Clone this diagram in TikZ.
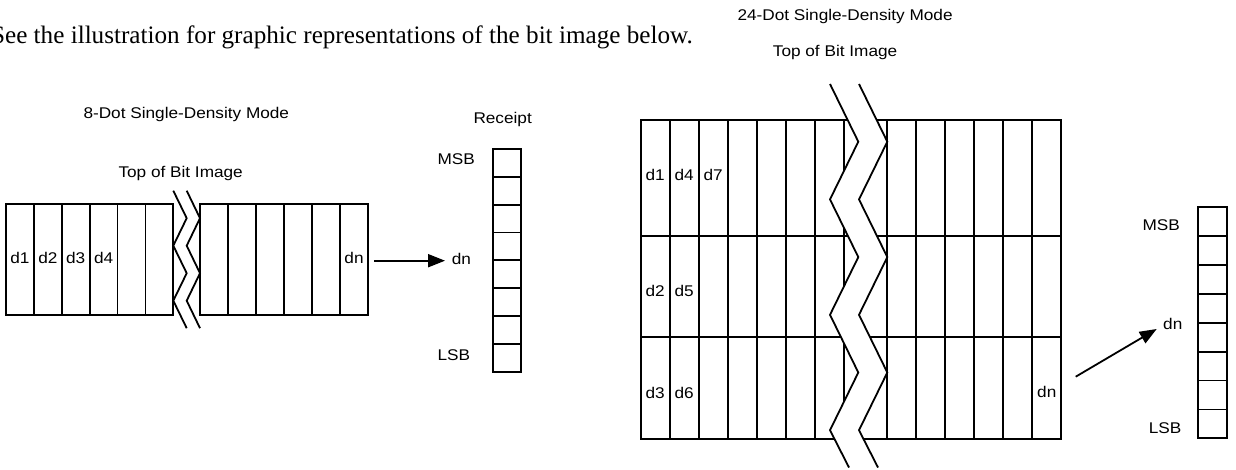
\documentclass[tikz,border=0pt]{standalone}
\usepackage{fontspec}
\newfontfamily\labfont[FakeStretch=1.11]{Liberation Sans}
\newfontfamily\capfont{Liberation Serif}
\usetikzlibrary{arrows.meta}
\begin{document}
\begin{tikzpicture}[x=1pt,y=-1pt,
  lab/.style={inner sep=0pt, font=\labfont\fontsize{15.5}{18}\selectfont},
  ln/.style={line width=1.8pt, line join=miter},
  arr/.style={line width=1.8pt, -{Triangle[length=17pt,width=13pt]}}]
\clip (0,0) rectangle (1236,470);
% caption
\node[inner sep=0pt, anchor=base east, font=\capfont\fontsize{25.15}{30}\selectfont] (cap) at (693,43.3)
  {See the illustration for graphic representations of the bit image below.};

% ---------- 8-dot ----------
\node[lab, anchor=base west] (t8) at (83.3,119) {8-Dot Single-Density Mode};
\node[lab, anchor=base west] (top8) at (118.3,177.3) {Top of Bit Image};
\node[lab, anchor=base west] (rec) at (473.3,123.3) {Receipt};
\draw[ln] (6,204) rectangle (173.3,315);
\foreach \i in {1,...,5} \draw[ln] ({6+27.88*\i},204) -- ++(0,111);
\draw[ln] (200,204) rectangle (368,315);
\foreach \i in {1,...,5} \draw[ln] ({200+28*\i},204) -- ++(0,111);
\draw[ln] (173.3,190.7) -- (186.7,218.2) -- (173.3,245.7) -- (186.7,273.2) -- (173.3,300.7) -- (186.7,328.2);
\draw[ln] (186.7,190.7) -- (200,218.2) -- (186.7,245.7) -- (200,273.2) -- (186.7,300.7) -- (200,328.2);
\foreach \t [count=\i] in {d1,d2,d3,d4}
  \node[lab, anchor=base] (l8\t) at ({6+27.88*(\i-0.5)},263.5) {\t};
\node[lab, anchor=base] (dnb8) at (354,263.5) {dn};
\node[lab, anchor=base west] (dnl8) at (451.7,265) {dn};
\coordinate (a8s) at (374.3,260.7);
\coordinate (a8e) at (445,260.7);
\draw[arr] (a8s) -- (a8e);
\draw[ln] (492.7,149) rectangle (520.7,371.7);
\foreach \i in {1,...,7} \draw[ln] (492.7,{149+27.84*\i}) -- ++(28,0);
\node[lab, anchor=base west] (msb8) at (437.3,165) {MSB};
\node[lab, anchor=base west] (lsb8) at (437.3,360) {LSB};

% ---------- 24-dot ----------
\node[lab, anchor=base west] (t24) at (737.3,20.7) {24-Dot Single-Density Mode};
\node[lab, anchor=base west] (top24) at (772.7,56.7) {Top of Bit Image};
\draw[ln] (640.7,120) rectangle (1061.3,439);
\draw[ln] (640.7,235.7) -- (1061.3,235.7);
\draw[ln] (640.7,337.3) -- (1061.3,337.3);
\foreach \i in {1,...,7} \draw[ln] ({640.7+29*\i},120) -- ++(0,319);
\foreach \i in {0,...,5} \draw[ln] ({887.3+29*\i},120) -- ++(0,319);
\fill[white] (830,84) -- (858.3,141.7) -- (830,199.4) -- (858.3,257.1) -- (830,314.8) -- (858.3,372.5) -- (830,430.2) -- (849,467.5)
  -- (878,467.5) -- (859,430.2) -- (887.3,372.5) -- (859,314.8) -- (887.3,257.1) -- (859,199.4) -- (887.3,141.7) -- (859,84) -- cycle;
\draw[ln] (830,84) -- (858.3,141.7) -- (830,199.4) -- (858.3,257.1) -- (830,314.8) -- (858.3,372.5) -- (830,430.2) -- (849,467.5);
\draw[ln] (859,84) -- (887.3,141.7) -- (859,199.4) -- (887.3,257.1) -- (859,314.8) -- (887.3,372.5) -- (859,430.2) -- (878,467.5);
\node[lab, anchor=base] (r1) at (655.2,181) {d1};
\node[lab, anchor=base] (r4) at (684.2,181) {d4};
\node[lab, anchor=base] (r7) at (713.2,181) {d7};
\node[lab, anchor=base] (r2) at (655.2,296.7) {d2};
\node[lab, anchor=base] (r5) at (684.2,296.7) {d5};
\node[lab, anchor=base] (r3) at (655.2,398.3) {d3};
\node[lab, anchor=base] (r6) at (684.2,398.3) {d6};
\node[lab, anchor=base] (dnb24) at (1046.8,397.7) {dn};
\node[lab, anchor=base west] (dnl24) at (1163,329.3) {dn};
\coordinate (a24s) at (1075.7,376.7);
\coordinate (a24e) at (1156.7,329);
\draw[arr] (a24s) -- (a24e);
\draw[ln] (1198.3,207.3) rectangle (1227.3,438.3);
\foreach \i in {1,...,7} \draw[ln] (1198.3,{207.3+28.875*\i}) -- ++(29,0);
\node[lab, anchor=base east] (msb24) at (1180,230.7) {MSB};
\node[lab, anchor=base east] (lsb24) at (1181.5,433.3) {LSB};
\end{tikzpicture}
\end{document}
